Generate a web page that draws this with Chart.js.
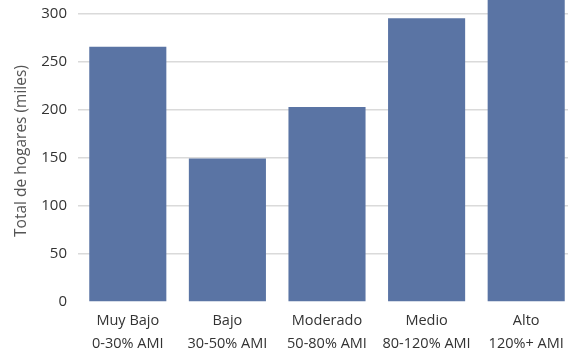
<!DOCTYPE html>
<html>
<head>
<meta charset="utf-8">
<script src="https://cdn.jsdelivr.net/npm/chart.js@4/dist/chart.umd.min.js"></script>
<style>
html,body{margin:0;padding:0;overflow:hidden;background:#fff;width:568px;height:355px;}
#wrap{position:absolute;left:0;top:0;width:576px;height:355px;}
</style>
</head>
<body>
<div id="wrap"><canvas id="c" width="576" height="355"></canvas></div>
<script>
const categories = [
  ['Muy Bajo', '0-30% AMI'],
  ['Bajo', '30-50% AMI'],
  ['Moderado', '50-80% AMI'],
  ['Medio', '80-120% AMI'],
  ['Alto', '120%+ AMI']
];
const households = [266, 149.5, 203, 295.5, 322];
const yTicks = [0, 50, 100, 150, 200, 250, 300];
const yTitle = 'Total de hogares (miles)';

const FONT = "'Open Sans', 'Noto Sans', sans-serif";

new Chart(document.getElementById('c'), {
  type: 'bar',
  data: {
    labels: categories,
    datasets: [{
      data: households,
      backgroundColor: '#5a74a4',
      borderWidth: 0,
      categoryPercentage: 1,
      barPercentage: 0.774
    }]
  },
  options: {
    responsive: false,
    animation: false,
    devicePixelRatio: 1,
    layout: { padding: 0 },
    plugins: { legend: { display: false }, tooltip: { enabled: false } },
    scales: {
      x: {
        grid: { display: false, drawTicks: false },
        border: { display: false },
        ticks: {
          color: '#333',
          font: { family: FONT, size: 14.5, lineHeight: 1.62 },
          padding: 7,
          maxRotation: 0
        },
        afterFit: s => { s.height = 53; }
      },
      y: {
        min: 0,
        max: 314.58,
        grid: {
          drawTicks: false,
          color: ctx => (ctx.tick && ctx.tick.value === 0) ? 'rgba(0,0,0,0)' : '#dadada',
          lineWidth: 1.5
        },
        border: { display: false },
        afterBuildTicks: s => { s.ticks = yTicks.map(v => ({ value: v })); },
        ticks: {
          color: '#333',
          font: { family: FONT, size: 15 },
          padding: 11
        },
        title: {
          display: true,
          text: yTitle,
          color: '#555',
          font: { family: FONT, size: 15.5 },
          padding: { top: 12, bottom: 0 }
        },
        afterFit: s => { s.width = 78; s.paddingTop = 0; }
      }
    }
  }
});
</script>
</body>
</html>
